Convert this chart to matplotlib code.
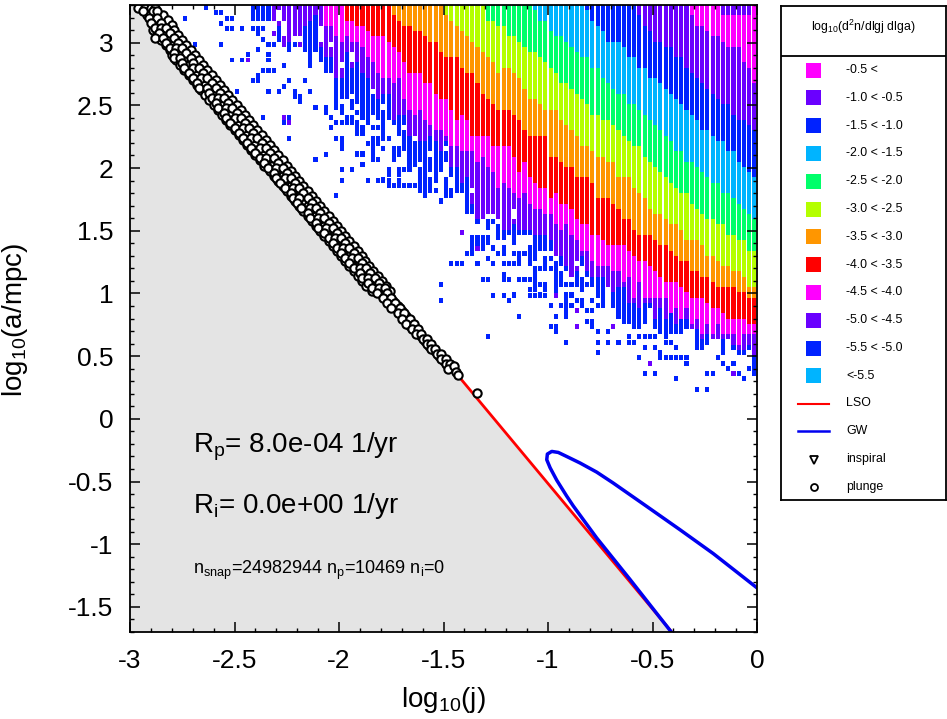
"""
Orbital density map in the (log j, log a) plane with plunge events and legend box
"""  # -*- coding: utf-8 -*-
import matplotlib
matplotlib.use('Agg')
import matplotlib.pyplot as plt
from matplotlib.patches import Rectangle

plt.rcParams['font.family'] = ['Liberation Sans', 'DejaVu Sans']
plt.rcParams['mathtext.fontset'] = 'custom'
plt.rcParams['mathtext.rm'] = 'Liberation Sans'
plt.rcParams['mathtext.default'] = 'rm'
plt.rcParams['axes.unicode_minus'] = False

X_RANGE = (-3.0, 0.0)
Y_RANGE = (-1.7, 3.3)
N_GRID = 120

C_MAG = '#ff00ff'
C_VIO = '#6a00ff'
C_BLU = '#0022ff'
C_AZU = '#00b4ff'
C_GRN = '#00ff6a'
C_LIM = '#b4ff00'
C_ORA = '#ff9600'
C_RED = '#ff0000'

# colour of the bins from the sparse fringe up to the densest corner
BAND_COLORS = [C_BLU, C_VIO, C_MAG, C_RED, C_ORA, C_LIM, C_GRN, C_AZU, C_BLU, C_VIO, C_MAG]

# lowest filled bin row of each grid column, first column is BOTTOM_START
BOTTOM_START = 23
BOTTOM = [117, 117, 117, 117, 114, 113, 112, 111, 112, 112, 111, 108, 111, 109, 107, 107, 103, 102,
          102, 103, 102, 98, 98, 99, 98, 94, 98, 90, 95, 93, 89, 93, 93, 90, 88, 88, 88, 90, 87,
          86, 86, 80, 80, 78, 79, 80, 78, 79, 77, 77, 76, 76, 76, 76, 73, 73, 73, 73, 72, 71, 69,
          68, 69, 70, 68, 66, 65, 64, 66, 62, 60, 59, 59, 58, 58, 59, 62, 58, 57, 57, 57, 57, 57,
          58, 58, 54, 54, 55, 56, 56, 53, 56, 54, 53, 53, 54, 49]

# first bin row of the next band in each column
EDGE_STARTS = [27, 37, 41, 50, 60, 68, 77, 87, 97, 107]
EDGE_VIOLET = [113, 116, 112, 113, 114, 111, 116, 117, 118, 112, 110, 110, 106, 106, 111, 108, 109,
               107, 106, 104, 102, 103, 103, 98, 99, 99, 95, 94, 94, 94, 95, 94, 92, 94, 89, 89, 86,
               87, 82, 79, 78, 80, 79, 79, 77, 76, 78, 77, 77, 77, 76, 76, 76, 75, 72, 72, 70, 68,
               69, 72, 69, 68, 68, 68, 66, 65, 66, 66, 63, 63, 62, 63, 63, 60, 62, 60, 62, 59,
               60, 60, 58, 58, 56, 57, 56, 56, 56, 56, 55, 54, 54, 55, 53]
EDGE_MAGENTA = [116, 116, 114, 113, 114, 113, 113, 112, 110, 109, 107, 106, 106, 105, 106, 102,
                100, 99, 100, 98, 97, 96, 96, 95, 93, 93, 92, 92, 92, 90, 91, 89, 88, 85, 86,
                85, 84, 83, 84, 82, 81, 81, 80, 80, 78, 77, 78, 76, 75, 73, 73, 71, 70, 70, 70,
                69, 69, 67, 68, 64, 67, 64, 64, 64, 64, 64, 61, 62, 60, 62, 59, 60, 57, 59, 57,
                59, 57, 57, 57, 55, 57, 57, 57]
EDGE_RED = [117, 117, 116, 116, 115, 114, 114, 114, 113, 112, 111, 109, 107, 107, 107, 105, 105,
            103, 102, 102, 100, 98, 99, 98, 95, 95, 95, 95, 93, 93, 93, 93, 91, 88, 90, 87, 86,
            85, 85, 83, 84, 82, 82, 81, 79, 78, 78, 76, 76, 75, 74, 74, 74, 74, 73, 72, 71, 71,
            70, 69, 68, 67, 67, 67, 66, 65, 64, 64, 64, 63, 62, 62, 61, 60, 60, 60, 60, 59, 59]
EDGE_ORANGE = [118, 117, 116, 116, 115, 115, 114, 113, 113, 111, 110, 110, 110, 108, 107, 107, 105,
               103, 102, 101, 100, 100, 100, 99, 98, 96, 95, 95, 95, 95, 91, 91, 90, 89, 89, 87,
               87, 87, 86, 83, 83, 83, 82, 81, 79, 79, 77, 76, 76, 76, 75, 74, 74, 73, 72, 71, 71,
               69, 69, 68, 68, 67, 66, 66, 66, 66, 65, 65, 64, 64]
EDGE_LIME = [118, 117, 116, 115, 114, 113, 112, 111, 110, 109, 107, 108, 108, 107, 106, 104, 102,
             102, 101, 100, 100, 100, 98, 97, 96, 95, 93, 93, 92, 91, 91, 90, 90, 87, 87, 87, 85,
             84, 83, 81, 80, 80, 79, 78, 78, 77, 75, 75, 75, 74, 72, 72, 71, 70, 70, 69, 69, 68,
             66, 66]
EDGE_GREEN = [117, 117, 116, 116, 114, 114, 113, 112, 111, 111, 110, 109, 108, 107, 105, 105, 104,
              103, 102, 101, 99, 99, 98, 98, 97, 96, 95, 94, 93, 93, 91, 90, 89, 88, 87, 86, 85,
              84, 84, 82, 81, 80, 79, 79, 78, 78, 76, 76, 75, 75, 73, 73]
EDGE_AZURE = [119, 117, 117, 115, 114, 114, 113, 112, 111, 110, 110, 108, 108, 106, 105, 104, 103,
              103, 101, 101, 100, 99, 98, 97, 96, 95, 94, 92, 92, 90, 90, 89, 88, 87, 86, 86, 84,
              84, 83, 82, 81, 80, 79]
EDGE_BLUE = [119, 117, 116, 115, 113, 113, 113, 112, 110, 110, 108, 108, 106, 106, 105, 104, 103,
             102, 101, 100, 99, 98, 96, 96, 95, 94, 94, 92, 92, 90, 89, 88, 87]
EDGE_VIOLET2 = [118, 116, 115, 113, 113, 112, 112, 110, 110, 108, 107, 106, 105, 104, 103, 102, 101,
                101, 99, 98, 98, 97, 96]
EDGE_MAGENTA2 = [118, 116, 116, 115, 114, 114, 113, 112, 112, 112, 109, 108, 105]

# isolated bins below the filled part, column and row
BLUE_CELL_COLS = [10, 12, 14, 16, 17, 18, 19, 17, 18, 19, 21, 17, 19, 21, 22, 24, 25, 26, 23, 24, 24,
                  20, 26, 28, 25, 29, 30, 30, 35, 35, 23, 24, 25, 24, 25, 24, 26, 27, 26, 26, 29, 27,
                  26, 25, 23, 24, 24, 26, 28, 29, 30, 31, 31, 32, 32, 33, 34, 35, 37, 37, 38, 38, 39,
                  39, 40, 41, 30, 29, 25, 30, 39, 40, 40, 37, 35, 40, 42, 40, 43, 44, 44, 45, 47, 49,
                  49, 39, 51, 52, 53, 54, 53, 52, 50, 55, 56, 57, 59, 59, 61, 62, 63, 64, 65, 66, 68,
                  69, 67, 68, 69, 71, 72, 73, 74, 71, 72, 74, 75, 76, 77, 78, 79, 80, 82, 83, 81, 80,
                  81, 81, 83, 68, 86, 87, 88, 87, 88, 88, 89, 89, 89, 91, 91, 93, 95, 95, 96, 97, 98,
                  99, 100, 98, 100, 101, 102, 102, 103, 104, 101, 102, 103, 104, 105, 106, 106, 97,
                  98, 100, 104, 108, 110, 110, 111, 112, 113, 114, 115, 116, 117, 118, 119]
BLUE_CELL_ROWS = [117, 112, 119, 118, 118, 117, 117, 116, 115, 115, 115, 112, 109, 109, 110, 111, 107,
                  107, 105, 106, 105, 103, 103, 103, 98, 97, 98, 94, 100, 90, 115, 115, 115, 114,
                  113, 111, 112, 112, 110, 109, 108, 107, 107, 107, 105, 106, 105, 103, 103, 104,
                  105, 103, 102, 102, 101, 105, 103, 100, 100, 99, 98, 96, 102, 97, 97, 97, 98, 97,
                  98, 94, 94, 94, 92, 91, 90, 88, 88, 86, 91, 91, 89, 86, 86, 88, 86, 83, 86, 88, 88,
                  85, 85, 85, 85, 85, 83, 84, 66, 63, 70, 70, 70, 72, 72, 70, 71, 70, 67, 67, 64, 64,
                  63, 64, 60, 68, 67, 67, 67, 64, 64, 64, 64, 62, 62, 61, 60, 58, 58, 57, 55, 56, 62,
                  61, 61, 59, 59, 58, 57, 55, 53, 57, 55, 55, 56, 55, 55, 56, 56, 56, 56, 54, 54, 53,
                  56, 55, 55, 54, 52, 52, 52, 52, 52, 52, 51, 52, 49, 49, 48, 46, 46, 49, 49, 52, 51,
                  50, 51, 49, 48, 50, 49]
# short stacks of blue bins under the fringe
STACK_COLS = [39, 39, 40, 40, 40, 40, 40, 41, 42, 42, 42, 42, 43, 43, 43, 43, 43, 43, 44, 44, 44, 45, 45,
              46, 46, 46, 46, 46, 46, 47, 47, 47, 47, 48, 48, 49, 49, 49, 49, 51, 51, 51, 51, 51, 52,
              52, 52, 53, 53, 54, 54, 54, 54, 54, 55, 55, 55, 55, 55, 55, 55, 56, 56, 56, 56, 56, 56,
              56, 57, 57, 57, 58, 58, 58, 59, 60, 60, 60, 60, 61, 61, 62, 62, 63, 63,
              65, 65, 65, 65, 66, 66, 66, 66, 67, 67, 67, 68, 68, 68, 68, 68, 69, 69, 69, 70, 70, 70,
              70, 71, 71, 71, 71, 71, 71, 72, 72, 72, 73, 73, 73, 73, 73, 74, 74, 74, 74, 75, 75, 76,
              76, 76, 76, 76, 76, 77, 77, 77, 77, 77, 77, 77, 78, 78, 78, 79, 79, 79, 79, 79, 80, 80,
              80, 81, 81, 81, 81, 81, 81, 81, 82, 82, 82, 82, 83, 83, 83, 83, 83, 84, 84, 84, 85, 85,
              85, 85, 86, 86, 86, 86, 87, 87, 88, 88, 89, 89, 90, 90]
STACK_ROWS = [101, 100, 100, 99, 94, 93, 92, 98, 101, 100, 98, 97, 101, 99, 97, 96, 95, 91, 96, 95, 91, 97,
              93, 96, 94, 93, 92, 91, 90, 96, 94, 93, 90, 92, 86, 94, 88, 87, 85, 92, 91, 88, 87, 85,
              92, 88, 85, 88, 85, 92, 91, 90, 89, 85, 92, 91, 90, 88, 87, 86, 84, 89, 88, 87, 86, 85,
              84, 83, 86, 85, 84, 87, 86, 84, 82, 86, 85, 84, 83, 84, 83, 85, 84, 85, 84,
              75, 74, 73, 72, 75, 74, 73, 70, 75, 74, 73, 78, 77, 75, 74, 71, 78, 73, 70, 77, 76, 75,
              72, 76, 75, 73, 72, 70, 67, 76, 70, 67, 75, 74, 72, 70, 64, 72, 71, 70, 67, 72, 67, 73,
              72, 71, 70, 67, 65, 72, 71, 69, 68, 67, 65, 66, 69, 66, 64, 71, 70, 69, 66, 65, 71, 69,
              62, 70, 69, 68, 67, 66, 65, 64, 70, 68, 67, 66, 66, 64, 63, 62, 60, 66, 64, 62, 68, 67,
              66, 63, 67, 66, 65, 63, 66, 61, 63, 61, 64, 62, 63, 62]
VIOLET_CELL_COLS = [66, 63, 85, 92, 99, 115, 85, 81, 22, 30, 29, 113, 114, 115, 116, 117, 118, 113, 114,
                    115, 116, 117, 118]
VIOLET_CELL_ROWS = [73, 76, 58, 58, 51, 49, 61, 64, 109, 97, 98, 119, 119, 119, 119, 119, 119, 118, 118,
                    118, 118, 118, 118]
# empty bins inside the filled part of the fringe
HOLE_COLS = [29, 29, 29, 31, 32, 36, 36, 36, 27, 27, 28, 28, 38, 40, 42, 42, 46, 48, 50, 50, 50, 50, 52,
             54, 57, 60, 65, 68, 69, 73, 73, 85]
HOLE_ROWS = [114, 115, 116, 113, 113, 115, 114, 113, 115, 116, 117, 118, 112, 108, 110, 109, 103, 100,
             96, 95, 94, 93, 96, 94, 91, 92, 84, 79, 79, 80, 79, 70]

LSO_X = [-2.908, -0.408]
LSO_Y = [3.3, -1.7]
GW_X = [-0.41, -0.608, -0.767, -0.879, -0.911, -0.958, -0.990, -1.006, -1.003, -0.982, -0.951, -0.911,
        -0.847, -0.767, -0.688, -0.528, -0.368, -0.209, 0.0]
GW_Y = [-1.70, -1.28, -0.95, -0.695, -0.615, -0.49, -0.39, -0.326, -0.281, -0.260, -0.268, -0.30,
        -0.352, -0.425, -0.512, -0.698, -0.885, -1.075, -1.348]

PLUNGE_X = [-2.96, -2.93, -2.90, -2.88, -2.94, -2.89, -2.87, -2.91, -2.87, -2.90, -2.85, -2.88, -2.85,
            -2.83, -2.86, -2.81, -2.88, -2.84, -2.79, -2.83, -2.77, -2.81, -2.78, -2.75, -2.79, -2.73,
            -2.79, -2.76, -2.71, -2.75, -2.70, -2.74, -2.70, -2.67, -2.72, -2.65, -2.70, -2.66, -2.63,
            -2.68, -2.61, -2.67, -2.63, -2.59, -2.62, -2.57, -2.61, -2.58, -2.55, -2.59, -2.53, -2.58,
            -2.54, -2.51, -2.55, -2.49, -2.54, -2.50, -2.47, -2.52, -2.45, -2.50, -2.46, -2.43, -2.48,
            -2.41, -2.46, -2.42, -2.39, -2.44, -2.37, -2.42, -2.38, -2.35, -2.40, -2.33, -2.38, -2.35,
            -2.31, -2.36, -2.29, -2.34, -2.30, -2.27, -2.31, -2.25, -2.30, -2.26, -2.23, -2.28, -2.21,
            -2.26, -2.22, -2.19, -2.23, -2.17, -2.22, -2.19, -2.15, -2.20, -2.13, -2.18, -2.14, -2.11,
            -2.15, -2.09, -2.14, -2.10, -2.07, -2.11, -2.05, -2.10, -2.06, -2.03, -2.07, -2.01, -2.05,
            -2.02, -1.99, -2.03, -1.97, -2.01, -1.98, -1.95, -1.99, -1.93, -1.97, -1.94, -1.91, -1.95,
            -1.89, -1.93, -1.90, -1.87, -1.90, -1.85, -1.89, -1.86, -1.83, -1.86, -1.81, -1.84, -1.81,
            -1.78, -1.82, -1.77, -1.79, -1.75, -1.77, -1.73, -1.75, -1.71, -1.72, -1.69, -1.70, -1.66,
            -1.68, -1.64, -1.65, -1.62, -1.63, -1.61, -1.60, -1.58, -1.58, -1.56, -1.56, -1.54, -1.53,
            -1.51, -1.51, -1.49, -1.49, -1.47, -1.48, -1.45, -1.44, -1.43, -1.341]
PLUNGE_Y = [3.28, 3.28, 3.28, 3.28, 3.25, 3.25, 3.25, 3.20, 3.20, 3.16, 3.16, 3.12, 3.12,
            3.12, 3.08, 3.08, 3.04, 3.04, 3.04, 3.00, 3.00, 2.96, 2.96, 2.96, 2.92, 2.92,
            2.88, 2.88, 2.88, 2.84, 2.84, 2.80, 2.80, 2.80, 2.76, 2.76, 2.72, 2.72, 2.72,
            2.68, 2.68, 2.64, 2.64, 2.64, 2.60, 2.60, 2.56, 2.56, 2.56, 2.52, 2.52, 2.48,
            2.48, 2.48, 2.44, 2.44, 2.40, 2.40, 2.40, 2.36, 2.36, 2.32, 2.32, 2.32, 2.28,
            2.28, 2.24, 2.24, 2.24, 2.20, 2.20, 2.16, 2.16, 2.16, 2.12, 2.12, 2.08, 2.08,
            2.08, 2.04, 2.04, 2.00, 2.00, 2.00, 1.96, 1.96, 1.92, 1.92, 1.92, 1.88, 1.88,
            1.84, 1.84, 1.84, 1.80, 1.80, 1.76, 1.76, 1.76, 1.72, 1.72, 1.68, 1.68, 1.68,
            1.64, 1.64, 1.60, 1.60, 1.60, 1.56, 1.56, 1.52, 1.52, 1.52, 1.48, 1.48, 1.44,
            1.44, 1.44, 1.40, 1.40, 1.36, 1.36, 1.36, 1.32, 1.32, 1.28, 1.28, 1.28, 1.24,
            1.24, 1.20, 1.20, 1.20, 1.16, 1.16, 1.12, 1.12, 1.12, 1.08, 1.08, 1.04, 1.04,
            1.04, 1.00, 1.00, 0.96, 0.96, 0.92, 0.92, 0.88, 0.88, 0.84, 0.84, 0.80, 0.80,
            0.76, 0.76, 0.72, 0.72, 0.68, 0.68, 0.64, 0.64, 0.60, 0.60, 0.56, 0.56, 0.52,
            0.52, 0.48, 0.48, 0.44, 0.44, 0.40, 0.42, 0.37, 0.35, 0.205]
# more plunges in between, grouped by log a
DENSE_Y = [3.22, 3.18, 3.14, 3.10, 3.06, 3.02, 2.98, 2.94, 2.90, 2.86, 2.82, 2.78, 2.74, 2.70, 2.66, 2.62,
           2.58, 2.54, 2.50, 2.46, 2.42, 2.38, 2.34, 2.30, 2.26, 2.22, 2.18, 2.14, 2.10, 2.06, 2.02, 1.98,
           1.94, 1.90, 1.86, 1.82, 1.78, 1.74, 1.70, 1.66, 1.62, 1.58, 1.54, 1.50, 1.46, 1.42, 1.38, 1.34,
           1.30, 1.26, 1.22, 1.18, 1.14, 1.10, 1.06, 1.02, 0.98, 0.94, 0.90, 0.86, 0.82, 0.78, 0.74, 0.70,
           0.66, 0.62, 0.58, 0.54, 0.50, 0.46]
DENSE_X = [[-2.92, -2.88], [-2.89, -2.86], [-2.87, -2.84], [-2.85, -2.83, -2.89], [-2.84, -2.80, -2.87],
           [-2.82, -2.78, -2.85], [-2.80, -2.76, -2.83], [-2.78, -2.74, -2.81], [-2.76, -2.72, -2.80],
           [-2.74, -2.70, -2.78], [-2.72, -2.68, -2.76], [-2.70, -2.66, -2.74], [-2.68, -2.64, -2.72],
           [-2.66, -2.62, -2.70], [-2.64, -2.60, -2.68], [-2.62, -2.58, -2.66], [-2.60, -2.56, -2.64],
           [-2.58, -2.54, -2.62], [-2.56, -2.52, -2.60], [-2.54, -2.50, -2.58], [-2.52, -2.48, -2.56],
           [-2.50, -2.46, -2.54], [-2.48, -2.44, -2.52], [-2.46, -2.42, -2.50], [-2.44, -2.40, -2.48],
           [-2.42, -2.38, -2.46], [-2.40, -2.36, -2.44], [-2.38, -2.34, -2.42], [-2.36, -2.32, -2.40],
           [-2.34, -2.30, -2.38], [-2.32, -2.28, -2.36], [-2.30, -2.26, -2.33], [-2.27, -2.24, -2.31],
           [-2.25, -2.22, -2.29], [-2.23, -2.20, -2.27], [-2.21, -2.18, -2.25], [-2.19, -2.16, -2.23],
           [-2.17, -2.14, -2.21], [-2.15, -2.12, -2.19], [-2.13, -2.10, -2.17], [-2.11, -2.08, -2.15],
           [-2.09, -2.06, -2.13], [-2.07, -2.04, -2.11], [-2.05, -2.02, -2.09], [-2.03, -2.00, -2.07],
           [-2.01, -1.98, -2.05], [-1.99, -1.96, -2.03], [-1.97, -1.94, -2.01], [-1.95, -1.92, -1.99],
           [-1.93, -1.90, -1.97], [-1.91, -1.88, -1.95], [-1.89, -1.86, -1.93], [-1.87, -1.84, -1.91],
           [-1.85, -1.82, -1.89], [-1.83, -1.80, -1.87], [-1.81, -1.78, -1.84], [-1.79, -1.76], [-1.77, -1.74],
           [-1.74, -1.72], [-1.72, -1.70], [-1.70, -1.68], [-1.68, -1.66], [-1.66, -1.64], [-1.63], [-1.61],
           [-1.59], [-1.57], [-1.54], [-1.52], [-1.50]]
# outer side of the band, same log a as the first rows of DENSE_Y
DENSE_OUTER_X = [-2.84, -2.82, -2.80, -2.79, -2.77, -2.75, -2.73, -2.71, -2.69, -2.67, -2.65, -2.63, -2.61,
                 -2.59, -2.57, -2.55, -2.53, -2.51, -2.49, -2.47, -2.45, -2.43, -2.41, -2.39, -2.37, -2.35,
                 -2.33, -2.31, -2.29, -2.27, -2.25, -2.23, -2.21, -2.19, -2.17, -2.15, -2.13, -2.11, -2.09,
                 -2.07, -2.05, -2.03, -2.01, -1.99, -1.97, -1.95, -1.93, -1.91, -1.89, -1.875, -1.855,
                 -1.835, -1.815, -1.795, -1.775, -1.755]

X_TICKS = [-3, -2.5, -2, -1.5, -1, -0.5, 0]
Y_TICKS = [-1.5, -1, -0.5, 0, 0.5, 1, 1.5, 2, 2.5, 3]

LEGEND_COLORS = [C_MAG, C_VIO, C_BLU, C_AZU, C_GRN, C_LIM, C_ORA, C_RED, C_MAG, C_VIO, C_BLU, C_AZU]
LEGEND_LABELS = ['-0.5 <', '-1.0 < -0.5', '-1.5 < -1.0', '-2.0 < -1.5', '-2.5 < -2.0', '-3.0 < -2.5',
                 '-3.5 < -3.0', '-4.0 < -3.5', '-4.5 < -4.0', '-5.0 < -4.5', '-5.5 < -5.0', '<-5.5']

W, H = 947, 719
fig = plt.figure(figsize=(W/100, H/100), dpi=100)
ax = fig.add_axes([130/W, 1-632/H, 627/W, 627/H])

dx = (X_RANGE[1]-X_RANGE[0])/N_GRID
dy = (Y_RANGE[1]-Y_RANGE[0])/N_GRID
edges = [EDGE_VIOLET, EDGE_MAGENTA, EDGE_RED, EDGE_ORANGE, EDGE_LIME, EDGE_GREEN, EDGE_AZURE,
         EDGE_BLUE, EDGE_VIOLET2, EDGE_MAGENTA2]
holes = set(zip(HOLE_COLS, HOLE_ROWS))


def band_of(col, row):
    band = 0
    for i, (start, edge) in enumerate(zip(EDGE_STARTS, edges)):
        if start <= col < start+len(edge) and row >= edge[col-start]:
            band = i+1
    return band


def draw_run(col, row0, nrow, color):
    ax.bar(X_RANGE[0]+(col+0.5)*dx, nrow*dy, width=0.78*dx, bottom=Y_RANGE[0]+row0*dy,
           color=color, linewidth=0, zorder=1)


for k, bottom in enumerate(BOTTOM):
    col = BOTTOM_START+k
    row0 = bottom
    current = band_of(col, bottom)
    for row in range(bottom+1, N_GRID):
        band = band_of(col, row)
        if band != current:
            draw_run(col, row0, row-row0, BAND_COLORS[current])
            row0, current = row, band
    draw_run(col, row0, N_GRID-row0, BAND_COLORS[current])

for col, row in zip(BLUE_CELL_COLS, BLUE_CELL_ROWS):
    if col < BOTTOM_START or row < BOTTOM[col-BOTTOM_START]:
        draw_run(col, row, 0.95, C_BLU)
for col, row in zip(STACK_COLS, STACK_ROWS):
    draw_run(col, row, 1.0, C_BLU)
for col, row in zip(VIOLET_CELL_COLS, VIOLET_CELL_ROWS):
    draw_run(col, row, 0.95, C_VIO)
for col, row in holes:
    draw_run(col, row, 1.0, 'white')

ax.fill([X_RANGE[0], LSO_X[1], LSO_X[0], X_RANGE[0]], [Y_RANGE[0], LSO_Y[1], LSO_Y[0], Y_RANGE[1]],
        color='#e4e4e4', linewidth=0, zorder=2)
ax.plot(LSO_X, LSO_Y, color='#ff0000', lw=2.0, zorder=3)
ax.plot(GW_X, GW_Y, color='#0000f0', lw=2.5, zorder=4)

for y, xs in zip(DENSE_Y, DENSE_X):
    ax.plot(xs, [y]*len(xs), 'o', ms=6.0, mfc='white', mec='black', mew=1.5, zorder=5)
ax.plot(DENSE_OUTER_X, DENSE_Y[:len(DENSE_OUTER_X)], 'o', ms=6.0, mfc='white', mec='black', mew=1.5, zorder=5)
ax.plot(PLUNGE_X, PLUNGE_Y, 'o', ms=6.0, mfc='white', mec='black', mew=1.5, zorder=5)

ax.set_xlim(*X_RANGE)
ax.set_ylim(*Y_RANGE)
ax.set_xticks(X_TICKS)
ax.set_yticks(Y_TICKS)
ax.set_xticklabels(['%g' % t for t in X_TICKS])
ax.set_yticklabels(['%g' % t for t in Y_TICKS])
ax.set_xticks([-3+0.1*i for i in range(31)], minor=True)
ax.set_yticks([-1.7+0.1*i for i in range(51)], minor=True)
ax.tick_params(which='major', direction='in', top=True, right=True, length=7, width=1.1,
               labelsize=19, pad=12)
ax.tick_params(which='minor', direction='in', top=True, right=True, length=3, width=1.0)
for spine in ax.spines.values():
    spine.set_linewidth(1.3)
    spine.set_zorder(10)
ax.set_axisbelow(False)
ax.set_xlabel('log$_{10}$(j)', fontsize=20, va='center')
ax.set_ylabel('log$_{10}$(a/mpc)', fontsize=20, va='center')
ax.xaxis.set_label_coords(0.5, -0.108)
ax.yaxis.set_label_coords(-0.183, 0.498)

ax.text(-2.70, -0.27, 'R$_{p}$= 8.0e-04 1/yr', fontsize=20, zorder=6)
ax.text(-2.70, -0.75, 'R$_{i}$= 0.0e+00 1/yr', fontsize=20, zorder=6)
ax.text(-2.70, -1.235, 'n$_{snap}$=24982944 n$_{p}$=10469 n$_{i}$=0', fontsize=13, zorder=6)

leg = fig.add_axes([781/W, 1-500/H, 164.5/W, 494/H])
leg.set_xlim(781, 945.5)
leg.set_ylim(500, 6)
leg.set_xticks([])
leg.set_yticks([])
for spine in leg.spines.values():
    spine.set_linewidth(1.3)
leg.axhline(56, color='black', lw=1.3)
leg.text(863, 27, 'log$_{10}$(d$^{2}$n/dlgj dlga)', fontsize=8.9, ha='center', va='center')

ROW_GAP = 27.8
for i, (color, label) in enumerate(zip(LEGEND_COLORS, LEGEND_LABELS)):
    yc = 70+i*ROW_GAP
    leg.add_patch(Rectangle((806, yc-7.5), 15, 15, facecolor=color, edgecolor='none'))
    leg.text(846, yc, label, fontsize=8.9, va='center')

leg.plot([798, 829], [403.5, 403.5], color='#ff0000', lw=1.5)
leg.text(846, 403.5, 'LSO', fontsize=8.9, va='center')
leg.plot([798, 829], [431, 431], color='#0000f0', lw=1.8)
leg.text(846, 431, 'GW', fontsize=8.9, va='center')
leg.plot([813.5], [459.5], 'v', ms=5.2, mfc='white', mec='black', mew=1.3)
leg.text(846, 459, 'inspiral', fontsize=8.9, va='center')
leg.plot([813.5], [487], 'o', ms=5.0, mfc='white', mec='black', mew=1.3)
leg.text(846, 487, 'plunge', fontsize=8.9, va='center')

fig.savefig('out.png', dpi=100)
